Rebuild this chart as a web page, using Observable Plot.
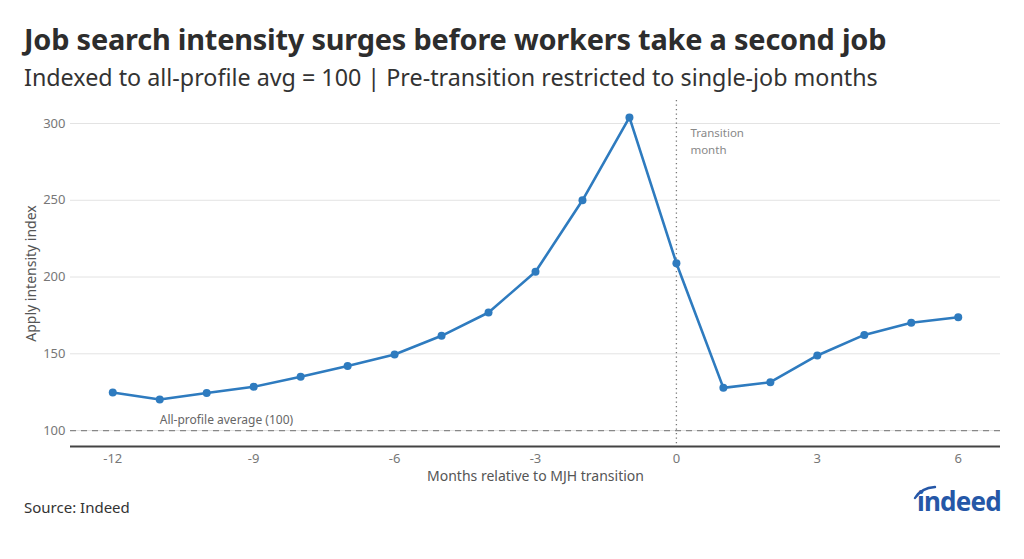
<!DOCTYPE html>
<html>
<head>
<meta charset="utf-8">
<script src="https://cdn.jsdelivr.net/npm/d3@7"></script>
<script src="https://cdn.jsdelivr.net/npm/@observablehq/plot@0.6"></script>
<style>
  html, body { margin: 0; padding: 0; background: #fff; }
  body { width: 1024px; height: 559px; position: relative; overflow: hidden; font-family: "Noto Sans", "Open Sans", sans-serif; }
  #title { position: absolute; left: 24px; top: 19px; font-size: 28.9px; font-weight: 700; color: #2d2d2d; letter-spacing: -0.2px; white-space: nowrap; }
  #subtitle { position: absolute; left: 24px; top: 61px; font-size: 23.3px; color: #333; white-space: nowrap; }
  #chart { position: absolute; left: 0; top: 95px; }
  #source { position: absolute; left: 24px; top: 497px; font-size: 15px; color: #333; }
  #logo { position: absolute; left: 905px; top: 480px; }
</style>
</head>
<body>
<div id="title">Job search intensity surges before workers take a second job</div>
<div id="subtitle">Indexed to all-profile avg = 100 | Pre-transition restricted to single-job months</div>
<div id="chart"></div>
<div id="source">Source: Indeed</div>
<div id="logo"></div>
<script>
// Months relative to the multiple-job-holding transition
const months = [-12, -11, -10, -9, -8, -7, -6, -5, -4, -3, -2, -1, 0, 1, 2, 3, 4, 5, 6];
// Apply intensity index (all-profile average = 100)
const intensity = [124.8, 120.2, 124.5, 128.5, 135, 142, 149.5, 161.7, 176.9, 203.4, 250, 304, 209, 127.8, 131.5, 148.9, 162.3, 170.2, 173.8];
const xTicks = [-12, -9, -6, -3, 0, 3, 6];
const yTicks = [100, 150, 200, 250, 300];
const baseline = 100;

const data = months.map((m, i) => ({month: m, value: intensity[i]}));
const blue = "#2e7bbf";

const chart = Plot.plot({
  width: 1024,
  height: 400,
  marginTop: 5,
  marginBottom: 49,
  marginLeft: 70,
  marginRight: 24,
  style: {fontFamily: "'Noto Sans', 'Open Sans', sans-serif", background: "transparent"},
  x: {domain: [-12.9, 6.9]},
  y: {domain: [89.6, 315]},
  marks: [
    Plot.gridY(yTicks, {stroke: "#e3e3e3", strokeOpacity: 1, strokeWidth: 1}),
    Plot.axisY(yTicks, {tickSize: 0, tickPadding: 5, fontSize: 13, fill: "#777", label: null}),
    Plot.text(["Apply intensity index"], {frameAnchor: "left", textAnchor: "middle", lineAnchor: "middle", dx: -39, rotate: -90, fontSize: 14, fill: "#555"}),
    Plot.axisX(xTicks, {tickSize: 0, tickPadding: 7, fontSize: 13, fill: "#777", label: null, tickFormat: d => String(d)}),
    Plot.text(["Months relative to MJH transition"], {frameAnchor: "bottom", textAnchor: "middle", lineAnchor: "middle", dy: 30, fontSize: 14, fill: "#555"}),
    Plot.ruleY([baseline], {stroke: "#888", strokeWidth: 1.3, strokeDasharray: "6,5"}),
    Plot.text(["All-profile average (100)"], {x: -11.0, y: baseline, dy: -10, textAnchor: "start", fontSize: 12, fill: "#666"}),
    Plot.ruleX([0], {stroke: "#777", strokeWidth: 1.3, strokeDasharray: "1.3,3.2"}),
    Plot.text(["Transition\nmonth"], {x: 0, frameAnchor: "top", dx: 14, dy: 24, textAnchor: "start", lineAnchor: "top", lineHeight: 1.5, fontSize: 11.5, fill: "#888"}),
    Plot.ruleY([89.6], {stroke: "#444", strokeWidth: 2}),
    Plot.line(data, {x: "month", y: "value", stroke: blue, strokeWidth: 2.6}),
    Plot.dot(data, {x: "month", y: "value", fill: blue, r: 4})
  ]
});
document.getElementById("chart").append(chart);

// Wordmark
const logo = d3.select("#logo").append("svg").attr("width", 110).attr("height", 40);
logo.append("path")
  .attr("d", "M10,18 Q16,8 30,7")
  .attr("fill", "none").attr("stroke", "#2557a7").attr("stroke-width", 2.4).attr("stroke-linecap", "round");
logo.append("text")
  .attr("x", 12).attr("y", 31)
  .attr("font-family", "'Noto Sans', sans-serif").attr("font-weight", 700)
  .attr("font-size", 26).attr("letter-spacing", -0.8).attr("fill", "#2557a7")
  .text("indeed");
</script>
</body>
</html>
